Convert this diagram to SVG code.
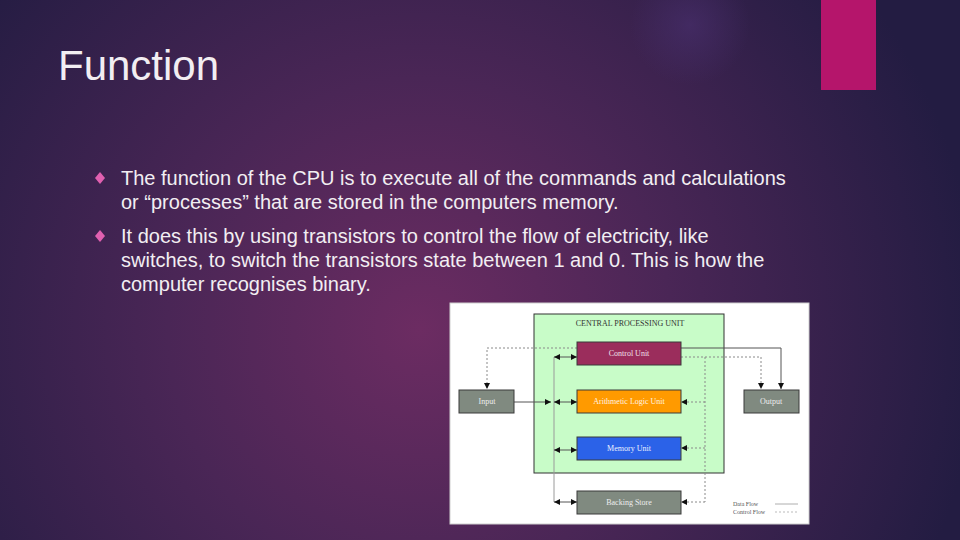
<svg xmlns="http://www.w3.org/2000/svg" width="960" height="540" viewBox="0 0 960 540">
<defs>
<radialGradient id="bg" cx="420" cy="330" r="560" gradientUnits="userSpaceOnUse">
<stop offset="0" stop-color="#6c2c62"/>
<stop offset="0.45" stop-color="#4a2656"/>
<stop offset="1" stop-color="#231c42"/>
</radialGradient>
<radialGradient id="glow" cx="690" cy="25" r="60" gradientUnits="userSpaceOnUse">
<stop offset="0" stop-color="#4a3070" stop-opacity="0.6"/>
<stop offset="1" stop-color="#4a3070" stop-opacity="0"/>
</radialGradient>
<marker id="ah" viewBox="0 0 10 10" refX="10" refY="5" markerWidth="6" markerHeight="6" markerUnits="userSpaceOnUse" orient="auto-start-reverse">
<path d="M0,0 L10,5 L0,10 z" fill="#111"/>
</marker>
<style>
.t{font-family:"Liberation Sans",Arial,sans-serif;fill:#f2eef2}
.b{font-size:20px}
.d{font-family:"Liberation Serif","Times New Roman",serif;font-size:8px;text-anchor:middle}
.box{stroke:#3a3a3a;stroke-width:1}
.data{fill:none;stroke:#9a9a9a;stroke-width:1}
.dark{fill:none;stroke:#555;stroke-width:1}
.ctl{fill:none;stroke:#8a8a8a;stroke-width:1;stroke-dasharray:2,2}
</style>
</defs>
<rect width="960" height="540" fill="url(#bg)"/>
<rect width="960" height="540" fill="url(#glow)"/>
<rect x="821" y="0" width="55" height="90" fill="#b5156b"/>
<text class="t" x="58" y="80" font-size="42">Function</text>
<g id="bullets">
<path d="M100,172 L105,178 L100,184 L95,178 z" fill="#e060b0"/>
<path d="M100,230 L105,236 L100,242 L95,236 z" fill="#e060b0"/>
<text class="t b" x="121" y="185">The function of the CPU is to execute all of the commands and calculations</text>
<text class="t b" x="121" y="209">or “processes” that are stored in the computers memory.</text>
<text class="t b" x="121" y="243">It does this by using transistors to control the flow of electricity, like</text>
<text class="t b" x="121" y="267">switches, to switch the transistors state between 1 and 0. This is how the</text>
<text class="t b" x="121" y="291">computer recognises binary.</text>
</g>
<rect x="450" y="303" width="359" height="221" fill="#ffffff" stroke="#cfcfcf"/>
<g id="cpu">
<rect x="534" y="314" width="190" height="159" fill="#c8fcc8" stroke="#333"/>
<text class="d" x="630" y="326" fill="#333" font-size="8">CENTRAL PROCESSING UNIT</text>
</g>
<g id="connectors">
<path class="ctl" d="M577,348 H487 V389" marker-end="url(#ah)"/>
<path class="dark" d="M681,348 H781 V389" marker-end="url(#ah)"/>
<path class="ctl" d="M681,357 H761 V389" marker-end="url(#ah)"/>
<path class="ctl" d="M705,357 V502"/>
<path class="ctl" d="M705,402 H681" marker-end="url(#ah)"/>
<path class="ctl" d="M705,448 H681" marker-end="url(#ah)"/>
<path class="ctl" d="M705,502 H681" marker-end="url(#ah)"/>
<path class="data" d="M554,357 V502"/>
<path class="dark" d="M554,357 H577" marker-start="url(#ah)" marker-end="url(#ah)"/>
<path class="dark" d="M554,402 H577" marker-start="url(#ah)" marker-end="url(#ah)"/>
<path class="dark" d="M554,450 H577" marker-start="url(#ah)" marker-end="url(#ah)"/>
<path class="dark" d="M554,502 H577" marker-start="url(#ah)" marker-end="url(#ah)"/>
<path class="dark" d="M514,402 H551" marker-end="url(#ah)"/>
</g>
<g id="control-unit">
<rect class="box" x="577" y="342" width="104" height="23" fill="#9b2d5c"/>
<text class="d" x="629" y="356" fill="#f0e0ea">Control Unit</text>
</g>
<g id="alu">
<rect class="box" x="577" y="390" width="104" height="23" fill="#ff9a00"/>
<text class="d" x="629" y="404" fill="#fff4e0">Arithmetic Logic Unit</text>
</g>
<g id="memory-unit">
<rect class="box" x="577" y="437" width="104" height="23" fill="#2b62e8"/>
<text class="d" x="629" y="451" fill="#eef2ff">Memory Unit</text>
</g>
<g id="backing-store">
<rect class="box" x="577" y="491" width="104" height="23" fill="#808a80"/>
<text class="d" x="629" y="505" fill="#eeeeee">Backing Store</text>
</g>
<g id="input">
<rect class="box" x="459" y="390" width="55" height="23" fill="#808a80"/>
<text class="d" x="487" y="404" fill="#eeeeee">Input</text>
</g>
<g id="output">
<rect class="box" x="744" y="390" width="55" height="23" fill="#808a80"/>
<text class="d" x="771" y="404" fill="#eeeeee">Output</text>
</g>
<g id="legend">
<text x="733" y="506" font-family="Liberation Serif, serif" font-size="6" fill="#555">Data Flow</text>
<text x="733" y="514" font-family="Liberation Serif, serif" font-size="6" fill="#555">Control Flow</text>
<path d="M775,504 H798" stroke="#999" stroke-width="0.8"/>
<path d="M775,512 H798" stroke="#aaa" stroke-width="0.8" stroke-dasharray="2,2"/>
</g>
</svg>
